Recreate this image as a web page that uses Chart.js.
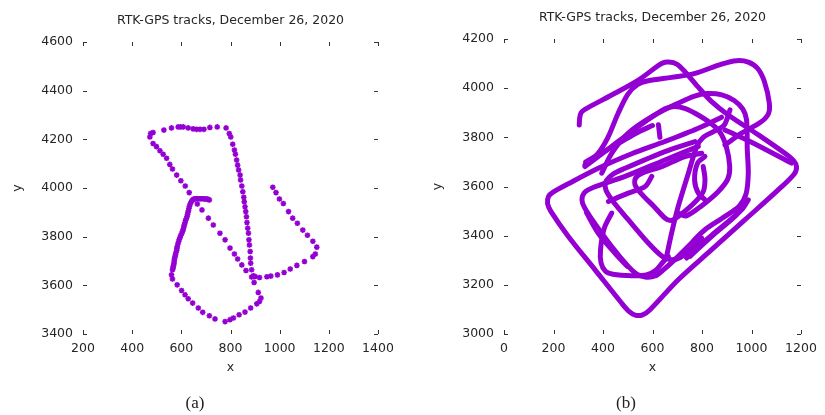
<!DOCTYPE html>
<html><head><meta charset="utf-8">
<script src="https://cdn.jsdelivr.net/npm/chart.js@4"></script>
<style>
html,body{margin:0;padding:0;background:#fff;}
#wrap{position:relative;width:825px;height:415px;overflow:hidden;}
#c1{position:absolute;left:0;top:0;}
#c2{position:absolute;left:412px;top:0;}
.cap{position:absolute;font-family:"Liberation Serif","DejaVu Serif",serif;font-size:17px;color:#222;transform:translate(-50%,-50%);}
</style></head>
<body>
<div id="wrap">
<canvas id="c1" width="412" height="415"></canvas>
<canvas id="c2" width="413" height="415"></canvas>
<div class="cap" style="left:195px;top:403px;">(a)</div>
<div class="cap" style="left:626px;top:403px;">(b)</div>
</div>
<script>
// ---------- data ----------
const titleText = "RTK-GPS tracks, December 26, 2020";
const xLabel = "x", yLabel = "y";

// (a) sparse RTK-GPS fixes
const trackA = [
 [972,4003],[985,3981],[999,3955],[1015,3936],[1036,3903],[1053,3876],[1072,3855],[1094,3827],[1113,3806],[1135,3781],[1151,3757],[1145,3729],[1135,3718],[1101,3698],[1070,3682],[1043,3667],[1018,3653],[991,3643],[964,3638],[948,3635],[918,3632],[900,3636],[886,3634],
 [472,4210],[475,4224],[485,4228],[529,4238],[560,4247],[587,4251],[597,4251],[608,4251],[628,4247],[648,4243],[662,4241],[676,4241],[692,4241],[716,4249],[746,4251],[782,4247],
 [795,4224],[801,4210],[809,4180],[816,4156],[820,4139],[825,4115],[829,4094],[833,4074],[839,4053],[841,4033],[846,4008],[850,3985],[854,3962],[856,3944],[859,3923],[862,3903],[865,3882],[867,3858],[870,3835],[873,3814],[875,3787],[877,3766],[880,3739],[881,3712],[882,3691],[886,3664],[893,3639],[896,3612],[913,3571],[924,3548],
 [918,3534],[907,3524],[882,3507],[859,3490],[835,3479],[812,3466],[798,3459],[778,3451],[737,3462],[714,3475],[687,3489],[669,3507],[646,3527],[628,3545],[615,3561],[601,3579],[583,3602],[564,3626],[560,3643],
 [564,3664],[567,3677],[570,3691],[572,3708],[576,3725],[581,3743],[583,3759],[589,3780],[595,3798],[602,3814],[608,3831],[612,3848],[617,3866],[623,3882],[627,3899],[631,3917],[636,3934],[643,3948],[651,3955],[662,3956],[673,3956],[684,3956],[695,3955],[706,3955],[714,3951],
 [566,3670],[569,3684],[571,3700],[574,3716],[578,3734],[582,3751],[586,3770],[592,3789],[598,3806],[605,3822],[610,3840],[615,3857],[620,3874],[625,3890],[629,3908],[633,3925],[640,3942],[647,3952],[656,3956],[667,3956],[678,3956],[690,3956],[700,3955],[710,3953],
 [665,3934],[684,3910],[710,3876],[730,3848],[757,3814],[778,3787],[798,3753],[816,3729],[829,3708],[846,3684],[863,3661],
 [632,3981],[616,4008],[598,4030],[581,4053],[564,4078],[553,4097],[540,4122],[526,4139],[513,4153],[499,4170],[485,4183]
];

// (b) dense track, waypoints of each visible loop
const pathA = [[304,3850],[306,3880],[312,3901],[327,3914],[435,3972],[543,4033],[615,4086],[640,4102],[665,4106],[698,4098],[731,4067],[785,4004],[839,3945],[906,3891],[1028,3810],[1135,3735],[1170,3705],[1182,3680],[1172,3650],[1108,3586],[974,3465],[839,3343],[704,3221],[590,3099],[560,3078],[530,3077],[505,3092],[475,3126],[368,3261],[260,3397],[190,3498],[176,3530],[180,3560],[200,3578],[260,3611],[381,3674],[516,3733],[650,3783],[785,3837],[879,3882]];
const pathB = [[327,3688],[380,3735],[420,3800],[460,3895],[500,3975],[540,4015],[583,4030],[677,4044],[772,4060],[879,4098],[940,4112],[987,4106],[1025,4080],[1052,4027],[1072,3939],[1068,3895],[1035,3860],[960,3817],[893,3769]];
const pathC = [[395,3654],[435,3735],[502,3817],[597,3884],[704,3939],[770,3968],[820,3978],[880,3973],[930,3950],[965,3915],[980,3871],[983,3749],[987,3654],[978,3570],[950,3520],[880,3470],[812,3424],[760,3370],[735,3316]];
const pathD = [[327,3681],[435,3763],[543,3844],[624,3900],[655,3918],[690,3925],[730,3918],[772,3898],[826,3864],[870,3825],[898,3763],[912,3681],[904,3630],[866,3580],[799,3522],[735,3480],[704,3492]];
const pathE = [[785,3763],[650,3708],[489,3641],[360,3596],[325,3575],[315,3545],[325,3515],[361,3458],[435,3356],[502,3275],[535,3245],[570,3232],[610,3236],[645,3262],[704,3316],[772,3384]];
const pathF = [[435,3492],[405,3430],[390,3343],[392,3290],[410,3255],[440,3243],[516,3237],[575,3240],[612,3258],[640,3290],[664,3316]];
const pathG = [[772,3783],[650,3742],[489,3674],[440,3650],[412,3620],[412,3585],[440,3540],[502,3465],[583,3370],[640,3315],[675,3302],[710,3310],[758,3349],[799,3390]];
const pathH = [[799,3735],[731,3722],[637,3681],[560,3655],[532,3635],[530,3605],[560,3565],[605,3520],[650,3472],[675,3462],[704,3478],[770,3535],[805,3580],[812,3630],[805,3681]];
const pathI = [[657,3316],[677,3410],[704,3519],[745,3654],[779,3763],[805,3800],[850,3825],[890,3850],[913,3912]];
const pathJ = [[422,3539],[502,3573],[570,3600],[597,3641]];
const pathK = [[738,3309],[785,3356],[866,3424],[960,3505],[987,3546]];
const pathK2 = [[752,3316],[839,3397],[933,3478],[974,3526]];
const pathK3 = [[334,3492],[381,3410],[448,3329],[498,3275]];
const pathL = [[812,3722],[782,3695],[770,3627],[785,3573],[812,3546]];
const pathM = [[893,3830],[1000,3780],[1162,3695]];
const pathN = [[624,3851],[630,3800]];
const pathO = [[330,3700],[400,3740],[470,3780],[540,3820],[600,3848]];
const pathsB = [pathA,pathB,pathC,pathD,pathE,pathF,pathG,pathH,pathI,pathJ,pathK,pathK2,pathK3,pathL,pathM,pathN,pathO];

const rangeA = {xmin:200,xmax:1400,ymin:3400,ymax:4600};
const rangeB = {xmin:0,xmax:1200,ymin:3000,ymax:4200};
const tickStep = 200;

// ---------- drawing ----------
const VIOLET = '#9400D3';
const txt = '#262626';
const fam = '"DejaVu Sans", sans-serif';
Chart.defaults.font.family = fam;
Chart.defaults.color = txt;

const innerTicks = {
  id:'innerTicks',
  afterDraw(chart){
    const {ctx, chartArea:a} = chart;
    const sx = chart.scales.x, sy = chart.scales.y;
    const L = 4;
    ctx.save(); ctx.strokeStyle = '#333'; ctx.lineWidth = 1;
    ctx.beginPath();
    sx.ticks.forEach(t=>{
      const p = Math.round(sx.getPixelForValue(t.value))+0.5;
      ctx.moveTo(p,a.top); ctx.lineTo(p,a.top+L);
      ctx.moveTo(p,a.bottom); ctx.lineTo(p,a.bottom-L);
    });
    sy.ticks.forEach(t=>{
      const p = Math.round(sy.getPixelForValue(t.value))+0.5;
      ctx.moveTo(a.left,p); ctx.lineTo(a.left+L,p);
      ctx.moveTo(a.right,p); ctx.lineTo(a.right-L,p);
    });
    ctx.stroke(); ctx.restore();
  }
};

function makeOptions(range, o){
  return {
    responsive:false, animation:false, events:[],
    layout:{padding:{left:0,right:o.padRight,top:0,bottom:o.padBottom}},
    plugins:{
      legend:{display:false}, tooltip:{enabled:false},
      title:{display:true,text:titleText,fullSize:false,color:txt,
             font:{family:fam,size:12.5,weight:'normal',lineHeight:1.2},
             padding:{top:o.tTop,bottom:o.tBottom}}
    },
    scales:{
      x:{type:'linear',min:range.xmin,max:range.xmax,
         grid:{display:false,drawTicks:false},border:{display:false},
         ticks:{stepSize:tickStep,padding:7,maxRotation:0,autoSkip:false,font:{size:12.5},color:txt,callback:v=>String(v)},
         title:{display:true,text:xLabel,font:{size:12.5},color:txt,padding:{top:0,bottom:4}},
         afterFit(s){s.height=45;}},
      y:{type:'linear',min:range.ymin,max:range.ymax,
         grid:{display:false,drawTicks:false},border:{display:false},
         ticks:{stepSize:tickStep,padding:10,font:{size:12.5},color:txt,callback:v=>String(v)},
         title:{display:true,text:yLabel,font:{size:12.5},color:txt,padding:{top:o.yTitlePad,bottom:0}},
         afterFit(s){s.width=o.yWidth;}}
    }
  };
}

const ptsA = trackA.map(p=>({x:p[0],y:p[1]}));
new Chart(document.getElementById('c1'),{
  type:'scatter',
  data:{datasets:[
    {data:ptsA,pointStyle:'rect',pointRadius:3.4,backgroundColor:'rgba(148,0,211,0.25)',borderWidth:0},
    {data:ptsA,pointStyle:'star',pointRadius:2.8,borderColor:VIOLET,backgroundColor:VIOLET,borderWidth:1.5}
  ]},
  options:makeOptions(rangeA,{padRight:34,padBottom:36,tTop:13,tBottom:14,yTitlePad:10,yWidth:83}),
  plugins:[innerTicks]
});

new Chart(document.getElementById('c2'),{
  type:'scatter',
  data:{datasets:pathsB.map(p=>({
    data:p.map(q=>({x:q[0],y:q[1]})),showLine:true,tension:0.3,
    borderColor:VIOLET,borderWidth:5,pointRadius:0,borderCapStyle:'round',borderJoinStyle:'round'
  }))},
  options:makeOptions(rangeB,{padRight:24,padBottom:36,tTop:10,tBottom:14,yTitlePad:18,yWidth:92}),
  plugins:[innerTicks]
});
</script>
</body></html>
